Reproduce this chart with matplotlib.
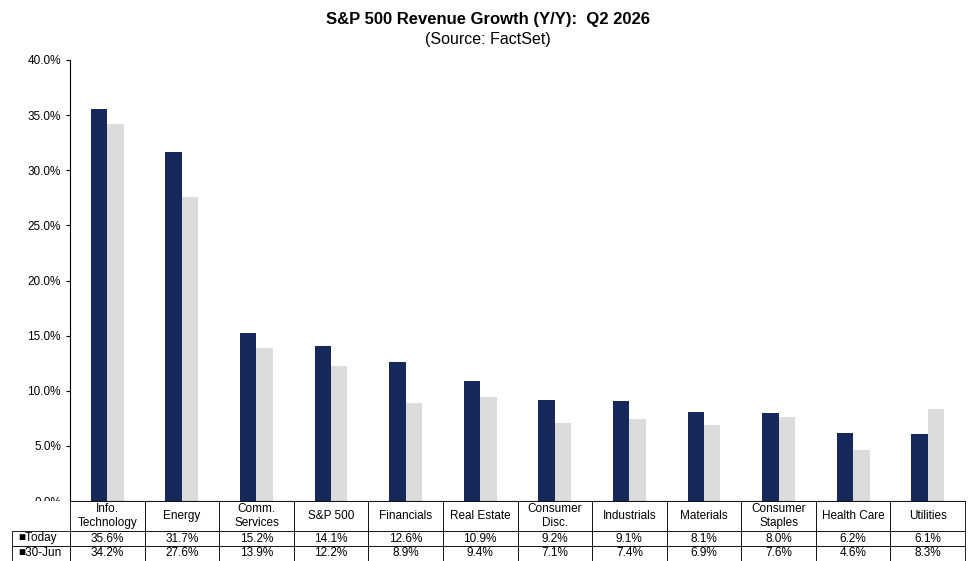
import numpy as np
import matplotlib.pyplot as plt

sectors = ['Info.\nTechnology', 'Energy', 'Comm.\nServices', 'S&P 500', 'Financials',
           'Real Estate', 'Consumer\nDisc.', 'Industrials', 'Materials',
           'Consumer\nStaples', 'Health Care', 'Utilities']
today = [35.6, 31.7, 15.2, 14.1, 12.6, 10.9, 9.2, 9.1, 8.1, 8.0, 6.2, 6.1]
jun30 = [34.2, 27.6, 13.9, 12.2, 8.9, 9.4, 7.1, 7.4, 6.9, 7.6, 4.6, 8.3]
yticks = [0, 5, 10, 15, 20, 25, 30, 35, 40]

navy = '#17295a'
grey = '#dcdcdc'

fig = plt.figure(figsize=(9.75, 5.61), dpi=100)
ax = fig.add_axes([70/975, 60/561, 895/975, 441/561])
x = np.arange(len(sectors))
w = 0.22
ax.bar(x - w/2, today, w, color=navy)
ax.bar(x + w/2, jun30, w, color=grey)
ax.set_xlim(-0.5, len(sectors) - 0.5)
ax.set_ylim(0, 40)
ax.set_yticks(yticks)
ax.set_yticklabels(['%.1f%%' % v for v in yticks], fontsize=8.5, family='Liberation Sans')
ax.set_xticks([])
for s in ['top', 'right']:
    ax.spines[s].set_visible(False)
ax.tick_params(axis='y', length=3)

fig.text(0.5, 0.965, 'S&P 500 Revenue Growth (Y/Y):  Q2 2026', ha='center', va='center',
         fontsize=12, fontweight='bold', family='Liberation Sans')
fig.text(0.5, 0.93, '(Source: FactSet)', ha='center', va='center',
         fontsize=11.5, family='Liberation Sans')

cells = [[''] + sectors,
         ['Today'] + ['%.1f%%' % v for v in today],
         ['30-Jun'] + ['%.1f%%' % v for v in jun30]]
tab = fig.add_axes([12/975, 0, 953/975, 60/561])
tab.axis('off')
t = tab.table(cellText=cells, bbox=[0, 0, 1, 1], cellLoc='center',
              colWidths=[58/953] + [895/12/953] * 12)
t.auto_set_font_size(False)
heights = [30/60, 15/60, 15/60]
for (r, c), cell in t.get_celld().items():
    cell.set_height(heights[r])
    cell.set_linewidth(0.6)
    cell.get_text().set_fontsize(8.5)
    cell.get_text().set_family('Liberation Sans')
    if r == 0 and c == 0:
        cell.set_linewidth(0)
    if c == 0 and r > 0:
        cell.get_text().set_ha('left')
t[1, 0].get_text().set_text('\u25a0Today')
t[2, 0].get_text().set_text('\u25a030-Jun')
fig.savefig('out.png', dpi=100)
